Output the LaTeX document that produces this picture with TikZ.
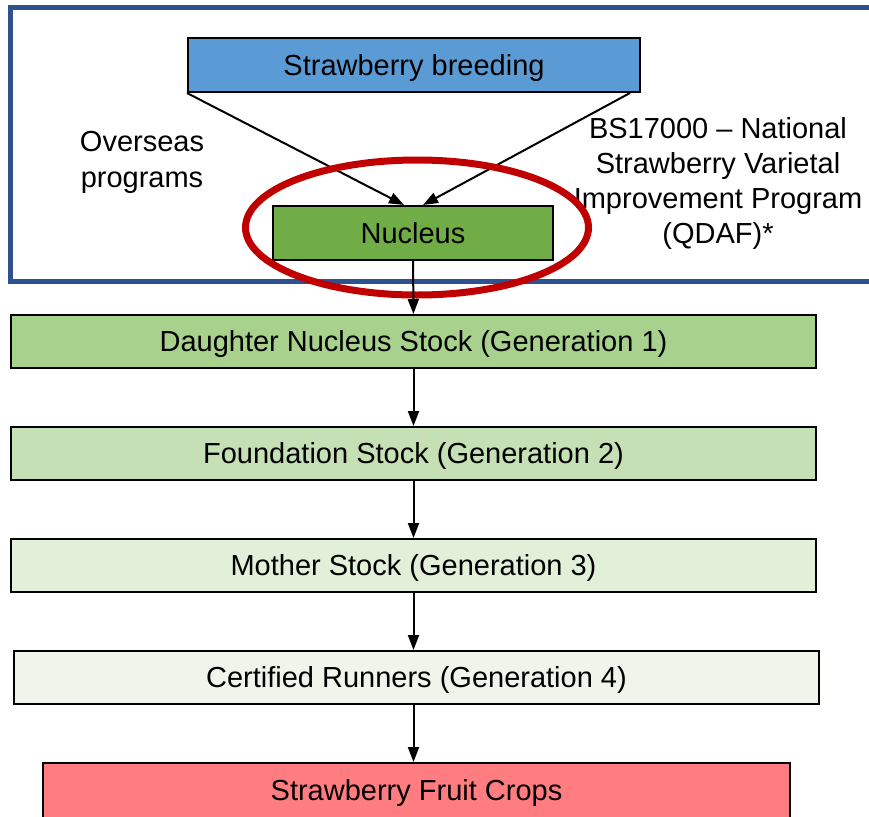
\documentclass[tikz,border=0pt]{standalone}
\usepackage{fontspec}
\setmainfont{Liberation Sans}
\usetikzlibrary{arrows.meta,positioning,shapes.geometric,calc}
\definecolor{frameblue}{HTML}{2F528F}
\definecolor{breedblue}{HTML}{5B9BD5}
\definecolor{nucgreen}{HTML}{70AD47}
\definecolor{gen1}{HTML}{A9D18E}
\definecolor{gen2}{HTML}{C5E0B4}
\definecolor{gen3}{HTML}{E2F0D9}
\definecolor{gen4}{HTML}{F0F5EC}
\definecolor{fruitred}{HTML}{FF7C80}
\definecolor{ringred}{HTML}{C00000}

\begin{document}
\begin{tikzpicture}[x=1pt,y=-1pt]
\tikzstyle{box}=[draw=black, line width=2pt, inner sep=0pt, minimum height=54pt, text height=21pt, text depth=0.2pt, font=\fontsize{29}{35}\selectfont]
\tikzstyle{stage}=[box, minimum width=805pt, minimum height=53pt]
\tikzstyle{label}=[align=center, font=\fontsize{29}{36}\selectfont]
\tikzstyle{flow}=[-{Triangle[length=15pt,width=11pt]}, line width=2pt]
\useasboundingbox (0,0) rectangle (869,816);
\draw[frameblue, line width=5pt] (10,8) rectangle (900,281.5); %
\node[box, fill=breedblue, minimum width=452pt] (breed) at (414,65) {Strawberry breeding};
\node[box, fill=nucgreen, minimum width=280pt] (nucleus) at (413,233) {Nucleus};
\node[label] (overseas) at (142,162) {Overseas\\programs};
\node[label, font=\fontsize{29}{35}\selectfont] (bs) at (718,183) {BS17000 -- National\\Strawberry Varietal\\Improvement Program\\(QDAF)*};
\path (breed.south west) edge[flow] ($(nucleus.north)+(-9,0)$) ;%
\path ($(breed.south east)+(-11,0)$) edge[flow] ($(nucleus.north)+(10,0)$) ;%
\node[ellipse, draw=ringred, line width=7pt, minimum width=343pt, minimum height=135pt] (ring) at (417,227.5) {};

\node[stage, fill=gen1] (daughter) at (413.5,341.5) {Daughter Nucleus Stock (Generation 1)};
\node[stage, fill=gen2, below=57pt of daughter] (foundation) {Foundation Stock (Generation 2)};
\node[stage, fill=gen3, below=57pt of foundation] (mother) {Mother Stock (Generation 3)};
\node[stage, fill=gen4, below=57pt of mother, xshift=3pt] (runners) {Certified Runners (Generation 4)};
\node[box, fill=fruitred, minimum width=747pt, minimum height=62pt, text height=13pt, below=57pt of runners] (fruit) {Strawberry Fruit Crops};

\path (nucleus) edge[flow] (daughter) ;%
\path (daughter) edge[flow] (foundation) ;%
\path (foundation) edge[flow] (mother) ;%
\path (mother) edge[flow] ($(runners.north)+(-3,0)$) ;%
\path ($(runners.south)+(-3,0)$) edge[flow] ($(fruit.north)+(-3,0)$) ;%
\end{tikzpicture}
\end{document}
